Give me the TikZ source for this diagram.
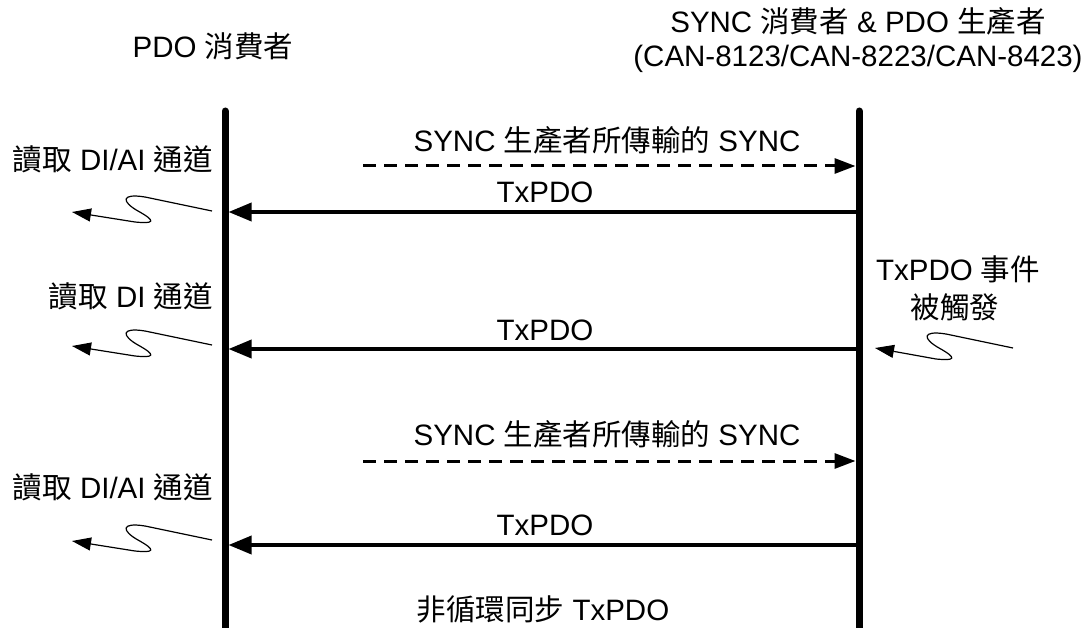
\documentclass[tikz,border=0pt]{standalone}
\usepackage{fontspec}
\setmainfont{Liberation Sans}
\newfontfamily\cjk{Noto Sans CJK TC}
\usetikzlibrary{arrows.meta,calc}

% squiggly "event" arrow: from its start point #1 to its tip #2
\newcommand\drawsquig[2]{%
  \draw[squiggle] (#1) -- ($(#1)+(-67,-14)$)
    .. controls ($(#1)+(-92,-18)$) and ($(#1)+(-90,-9)$) .. ($(#1)+(-74,0)$)
    .. controls ($(#1)+(-56,10)$) and ($(#1)+(-57,13)$) .. ($(#1)+(-77,11)$)
    -- (#2);}

\begin{document}
\begin{tikzpicture}[x=1pt,y=-1pt,
  txt/.style={inner sep=0pt, font=\fontsize{29.5}{34}\selectfont},
  lifeline/.style={line width=7pt, line cap=round},
  msg/.style={line width=3.5pt, shorten >=3.5pt, -{Triangle[length=23pt,width=18pt]}},
  syncmsg/.style={line width=3pt, dash pattern=on 13pt off 8pt, shorten >=3.5pt,
                  -{Triangle[length=21pt,width=15pt]}},
  squiggle/.style={line width=1.2pt, -{Triangle[length=19pt,width=13pt]}},
]
\useasboundingbox[fill=white] (0,0) rectangle (1091,628);

% headers
\node[txt, anchor=base] (hL) at (213,58) {PDO {\cjk 消費者}};
\node[txt, anchor=base] (hR1) at (858,33) {SYNC {\cjk 消費者} \& PDO {\cjk 生產者}};
\node[txt, anchor=base] (hR2) at (858,67) {(CAN-8123/CAN-8223/CAN-8423)};

% lifelines
\coordinate (Ltop) at (225,111);
\coordinate (Lbot) at (225,645);
\coordinate (Rtop) at (859,111);
\coordinate (Rbot) at (859,645);
\draw[lifeline] (Ltop) -- (Lbot);
\draw[lifeline] (Rtop) -- (Rbot);

% first SYNC cycle
\coordinate (s1a) at (363,166);
\coordinate (s1b) at (859,166);
\draw[syncmsg] (s1a) -- (s1b);
\node[txt, anchor=base] (ls1) at (607,152) {SYNC {\cjk 生產者所傳輸的} SYNC};
\coordinate (t1R) at (859,212);
\coordinate (t1L) at (225,212);
\draw[msg] (t1R) -- (t1L);
\node[txt, anchor=base] (lt1) at (545,203) {TxPDO};
\node[txt, anchor=base east] (rd1) at (213,171) {{\cjk 讀取} DI/AI {\cjk 通道}};
\coordinate (q1) at (212,211);
\coordinate (q1t) at (72,212);
\drawsquig{q1}{q1t}

% event-driven TxPDO
\node[txt, anchor=base] (ev1) at (958,280) {TxPDO {\cjk 事件}};
\node[txt, anchor=base] (ev2) at (955,318) {{\cjk 被觸發}};
\coordinate (qe) at (1013,348);
\coordinate (qet) at (875,348);
\drawsquig{qe}{qet}
\coordinate (t2R) at (859,349);
\coordinate (t2L) at (225,349);
\draw[msg] (t2R) -- (t2L);
\node[txt, anchor=base] (lt2) at (545,340) {TxPDO};
\node[txt, anchor=base east] (rd2) at (213,307) {{\cjk 讀取} DI {\cjk 通道}};
\coordinate (q2) at (212,345);
\coordinate (q2t) at (72,346);
\drawsquig{q2}{q2t}

% second SYNC cycle
\coordinate (s2a) at (363,461);
\coordinate (s2b) at (859,461);
\draw[syncmsg] (s2a) -- (s2b);
\node[txt, anchor=base] (ls2) at (607,445) {SYNC {\cjk 生產者所傳輸的} SYNC};
\coordinate (t3R) at (859,545);
\coordinate (t3L) at (225,545);
\draw[msg] (t3R) -- (t3L);
\node[txt, anchor=base] (lt3) at (545,535) {TxPDO};
\node[txt, anchor=base east] (rd3) at (213,498) {{\cjk 讀取} DI/AI {\cjk 通道}};
\coordinate (q3) at (212,540);
\coordinate (q3t) at (72,541);
\drawsquig{q3}{q3t}

% caption
\node[txt, anchor=base] (cap) at (543,620) {{\cjk 非循環同步} TxPDO};
\end{tikzpicture}
\end{document}
